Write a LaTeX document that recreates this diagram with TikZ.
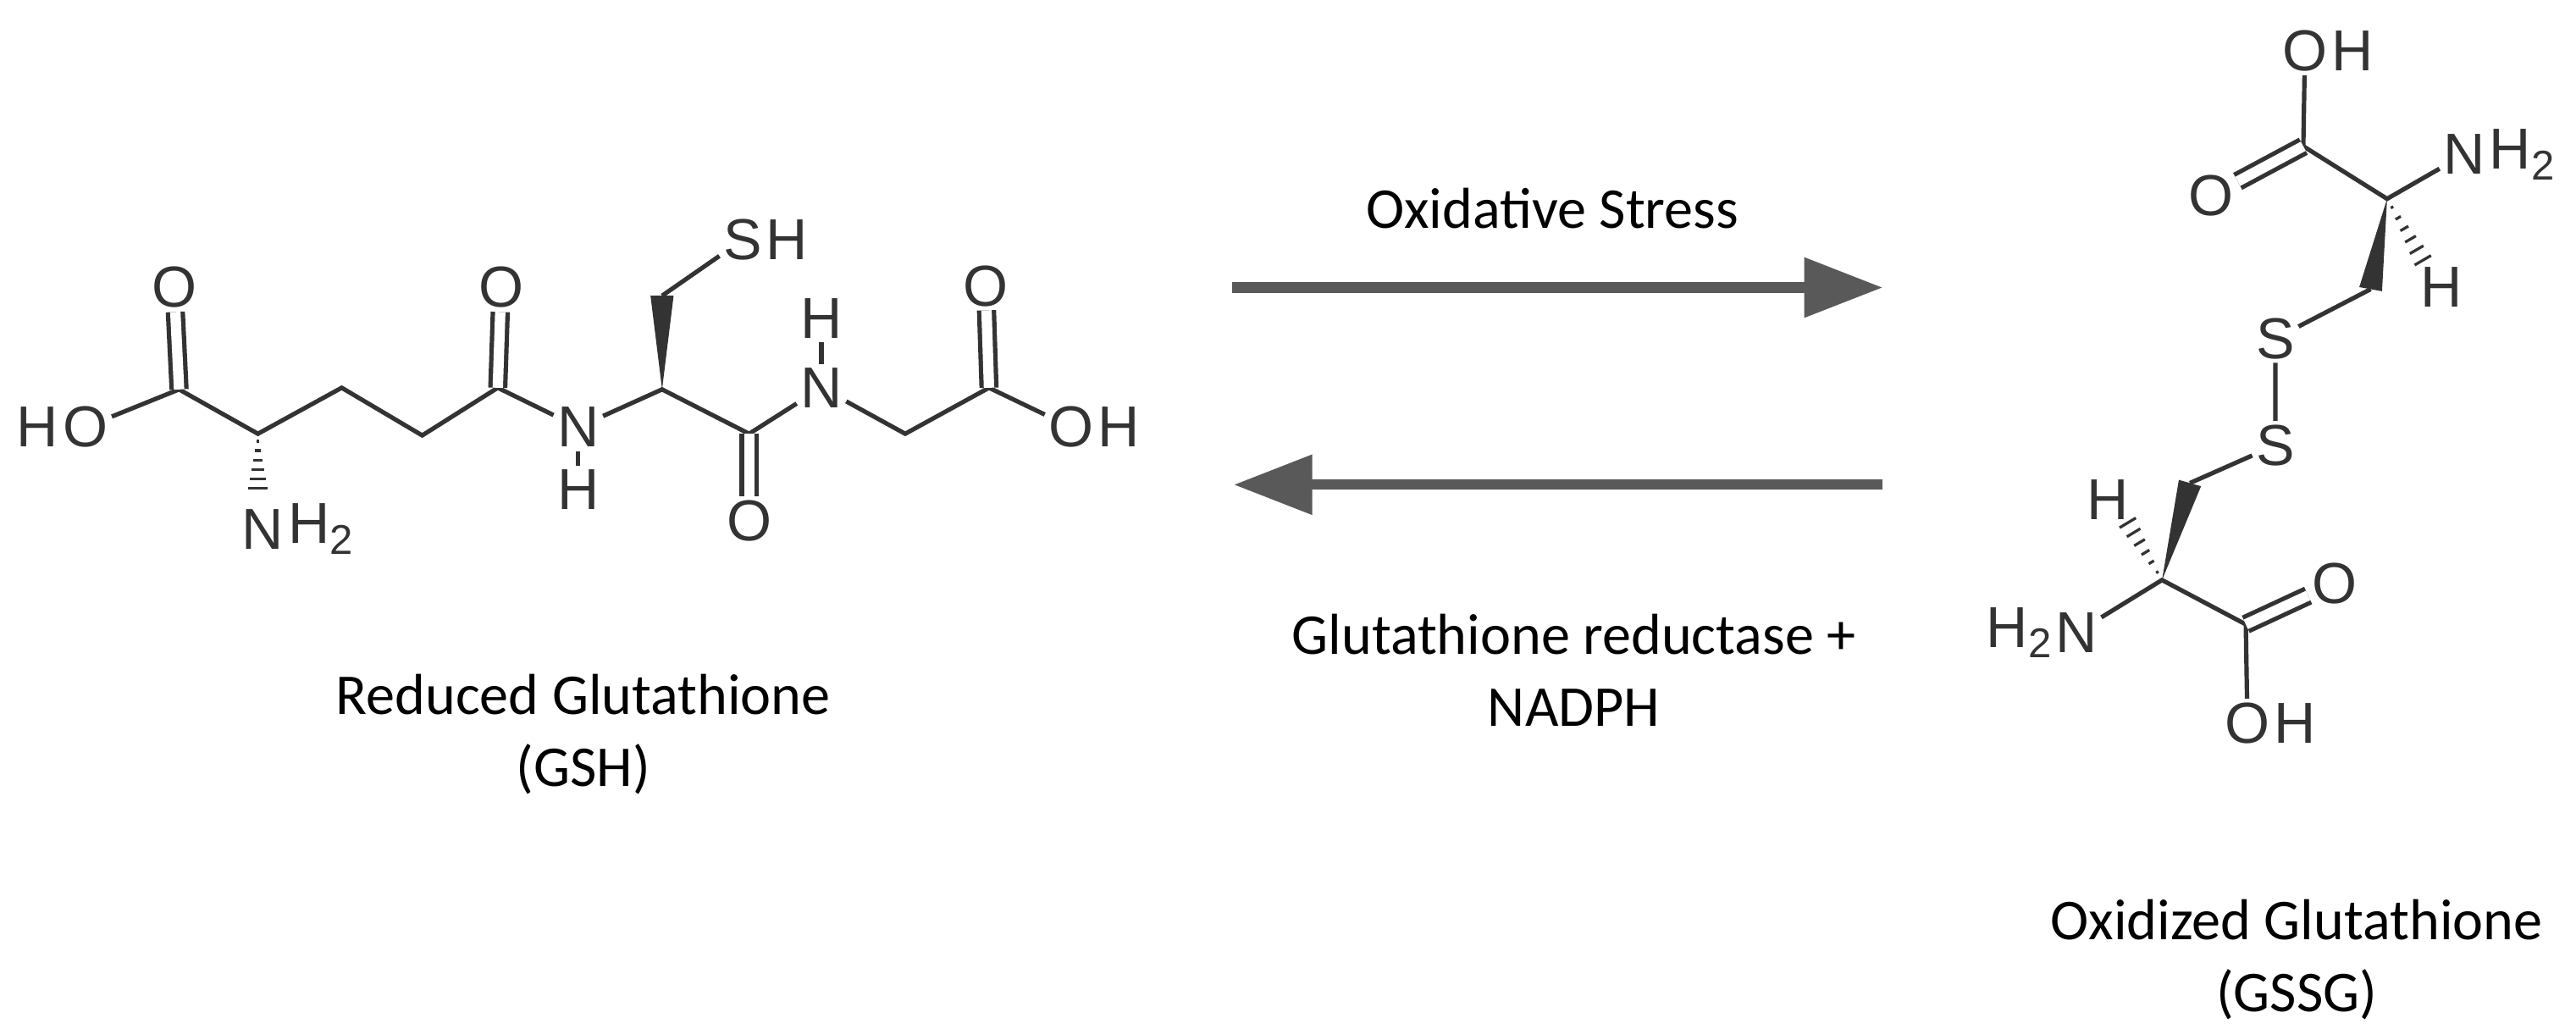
\documentclass[tikz,border=0pt]{standalone}
\usepackage{fontspec}
\setmainfont{Liberation Sans}
\newfontfamily\lblfont{Carlito}
\usetikzlibrary{calc,arrows.meta}
\definecolor{bondc}{HTML}{333333}
\definecolor{arrc}{HTML}{595959}
\newcommand{\subtwo}{\raisebox{-0.35ex}{\fontsize{18}{18}\selectfont 2}}
\tikzset{
  atom/.style={inner sep=1.5pt,font=\fontsize{25}{25}\selectfont,text=bondc},
  hlab/.style={inner sep=0pt,font=\fontsize{25}{25}\selectfont,text=bondc},
  bond/.style={draw=bondc,line width=1.9pt},
  dbl/.style={bond,double,double distance=4.5pt},
  txt/.style={font=\lblfont\fontsize{25}{31}\selectfont,align=center,text=black},
  rxn/.style={draw=arrc,line width=4.5pt,-{Triangle[length=34pt,width=25pt]}}
}
\newcommand{\wedgeb}[2]{\fill[bondc] (#1) -- ($(#2)!5pt!90:(#1)$) -- ($(#2)!5pt!-90:(#1)$) -- cycle;}
\newcommand{\hashb}[2]{\foreach \t/\w in {0.12/0.6pt,0.27/1.3pt,0.42/2pt,0.57/2.7pt,0.72/3.4pt,0.87/4.1pt}{\draw[bondc,line width=1.2pt] ($(#1)!\t!(#2)!\w!90:(#2)$) -- ($(#1)!\t!(#2)!\w!-90:(#2)$);}}
\begin{document}
\begin{tikzpicture}[x=0.025cm,y=-0.025cm]
\useasboundingbox (0,0) rectangle (1568,626);
% ---------- GSH ----------
\coordinate (c1) at (109,237);
\coordinate (c2) at (157,264);
\coordinate (c3) at (208,236);
\coordinate (c4) at (257,265);
\coordinate (c5) at (303,236);
\coordinate (ca) at (403,237);
\coordinate (cb) at (403,180);
\coordinate (c7) at (456,264);
\coordinate (c8) at (551,264);
\coordinate (c9) at (602,236);
\coordinate (hn) at (157,302);
\node[atom] (o1) at (106,175) {O};
\node[atom] (oh1) at (52,260) {O};
\node[hlab,anchor=east] (hh1) at (oh1.west) {H};
\node[atom] (n0) at (160,322) {N};
\node[hlab,anchor=west] (hn0) at (n0.east) {H\subtwo};
\node[atom] (o5) at (305,175) {O};
\node[atom] (n1) at (352,260) {N};
\node[atom] (h1) at (352,298) {H};
\node[atom] (s1) at (452,146) {S};
\node[hlab,anchor=west] (hs1) at (s1.east) {H};
\node[atom] (o7) at (456,317) {O};
\node[atom] (n2) at (500,236) {N};
\node[atom] (h2) at (500,194) {H};
\node[atom] (o9) at (600,174) {O};
\node[atom] (oh9) at (652,260) {O};
\node[hlab,anchor=west] (hh9) at (oh9.east) {H};
\draw[bond] (oh1) -- (c1) -- (c2) -- (c3) -- (c4) -- (c5) -- (n1) -- (ca) -- (c7) -- (n2) -- (c8) -- (c9) -- (oh9);
\draw[bond] (n1) -- (h1);
\draw[bond] (n2) -- (h2);
\draw[bond] (cb) -- (s1);
\draw[dbl] (c1) -- (o1);
\draw[dbl] (c5) -- (o5);
\draw[dbl] (c7) -- (o7);
\draw[dbl] (c9) -- (o9);
\wedgeb{ca}{cb}
\hashb{c2}{hn}
\node[txt] (gshlab) at (355,447) {Reduced Glutathione\\(GSH)};
% ---------- arrows ----------
\coordinate (a1s) at (750,175);
\coordinate (a1e) at (1146,175);
\coordinate (a2s) at (1146,295);
\coordinate (a2e) at (751,295);
\draw[rxn] (a1s) -- (a1e);
\draw[rxn] (a2s) -- (a2e);
\node[txt] (t1) at (945,127) {Oxidative Stress};
\node[txt] (t2) at (958,408) {Glutathione reductase +\\NADPH};
% ---------- GSSG ----------
\coordinate (d1) at (1402,89);
\coordinate (da) at (1453,121);
\coordinate (db) at (1443,176);
\coordinate (dh) at (1478,164);
\coordinate (e1) at (1367,380);
\coordinate (ea) at (1316,353);
\coordinate (eb) at (1333,294);
\coordinate (eh) at (1292,313);
\node[atom] (ot) at (1403,31) {O};
\node[hlab,anchor=west] (oth) at (ot.east) {H};
\node[atom] (od) at (1346,119) {O};
\node[atom] (nt) at (1500,94) {N};
\node[hlab,anchor=west] (nth) at (nt.east) {H\subtwo};
\node[atom] (ht) at (1486,175) {H};
\node[atom] (sa) at (1385,206) {S};
\node[atom] (sb) at (1385,271) {S};
\node[atom] (hb) at (1283,304) {H};
\node[atom] (nb) at (1264,385) {N};
\node[hlab,anchor=east] (nbh) at (nb.west) {H\subtwo};
\node[atom] (oe) at (1421,355) {O};
\node[atom] (ob) at (1368,440) {O};
\node[hlab,anchor=west] (obh) at (ob.east) {H};
\draw[bond] (ot) -- (d1) -- (da) -- (nt);
\draw[dbl] (d1) -- (od);
\draw[bond] (db) -- (sa) -- (sb) -- (eb);
\draw[bond] (nb) -- (ea) -- (e1) -- (ob);
\draw[dbl] (e1) -- (oe);
\wedgeb{da}{db}
\hashb{da}{dh}
\wedgeb{ea}{eb}
\hashb{ea}{eh}
\node[txt] (gssglab) at (1398,584) {Oxidized Glutathione\\(GSSG)};
\end{tikzpicture}
\end{document}
